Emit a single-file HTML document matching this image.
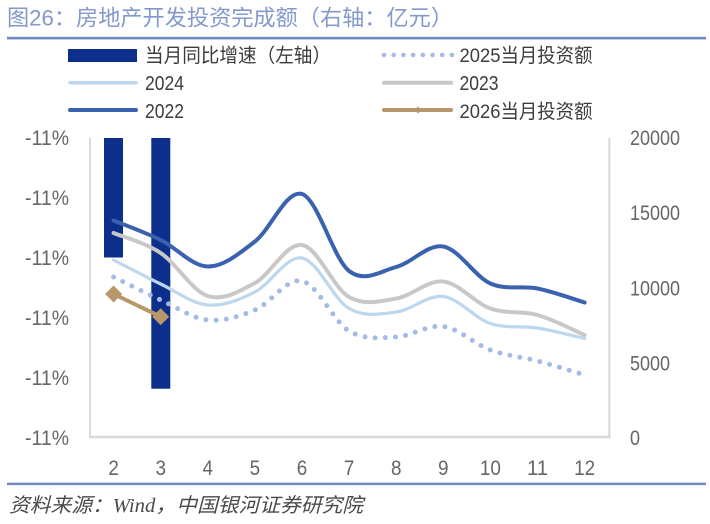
<!DOCTYPE html>
<html><head><meta charset="utf-8">
<style>
html,body{margin:0;padding:0;background:#fff;}
svg{display:block;}
text{font-family:"Liberation Sans","Noto Sans CJK SC",sans-serif;}
</style></head>
<body>
<svg width="710" height="524" viewBox="0 0 710 524" xmlns="http://www.w3.org/2000/svg">
<rect width="710" height="524" fill="#fff"/>

<!-- Title -->
<text x="7" y="25.5" font-size="22" fill="#8399cc" textLength="446" lengthAdjust="spacingAndGlyphs">图26：房地产开发投资完成额（右轴：亿元）</text>
<rect x="7" y="36.8" width="699" height="2.6" fill="#6f87c0"/>

<!-- Legend -->
<rect x="68" y="49" width="69" height="13" fill="#0b2f8a"/>
<text x="145" y="62" font-size="19.5" fill="#3c3c3c" textLength="186" lengthAdjust="spacingAndGlyphs">当月同比增速（左轴）</text>
<line x1="70" y1="82.7" x2="136" y2="82.7" stroke="#bdd7ee" stroke-width="3.5" stroke-linecap="round"/>
<text x="145" y="90" font-size="20" fill="#3c3c3c" textLength="39" lengthAdjust="spacingAndGlyphs">2024</text>
<line x1="70" y1="110" x2="136" y2="110" stroke="#3a62ae" stroke-width="4" stroke-linecap="round"/>
<text x="145" y="118" font-size="20" fill="#3c3c3c" textLength="39" lengthAdjust="spacingAndGlyphs">2022</text>

<line x1="384" y1="55" x2="452" y2="55" stroke="#a4bbe6" stroke-width="4.6" stroke-linecap="round" stroke-dasharray="0 9.7"/>
<text x="459.5" y="62" font-size="19.5" fill="#3c3c3c" textLength="133" lengthAdjust="spacingAndGlyphs">2025当月投资额</text>
<line x1="384" y1="82.7" x2="451" y2="82.7" stroke="#c8c8c8" stroke-width="4" stroke-linecap="round"/>
<text x="459.5" y="90" font-size="20" fill="#3c3c3c" textLength="39" lengthAdjust="spacingAndGlyphs">2023</text>
<line x1="384" y1="110" x2="451" y2="110" stroke="#b8976a" stroke-width="4" stroke-linecap="round"/>
<polygon points="418,106.5 421.5,110 418,113.5 414.5,110" fill="#b8976a"/>
<text x="459.5" y="118" font-size="19.5" fill="#3c3c3c" textLength="133" lengthAdjust="spacingAndGlyphs">2026当月投资额</text>

<!-- Axes -->
<line x1="90" y1="138" x2="90" y2="437" stroke="#d9d9d9" stroke-width="2"/>
<line x1="609.3" y1="138" x2="609.3" y2="437" stroke="#d9d9d9" stroke-width="2"/>
<line x1="89" y1="437" x2="610.3" y2="437" stroke="#d9d9d9" stroke-width="2.4"/>

<!-- Left axis labels -->
<g font-size="21" fill="#666">
<text x="25" y="145" textLength="44" lengthAdjust="spacingAndGlyphs">-11%</text>
<text x="25" y="205" textLength="44" lengthAdjust="spacingAndGlyphs">-11%</text>
<text x="25" y="265" textLength="44" lengthAdjust="spacingAndGlyphs">-11%</text>
<text x="25" y="325" textLength="44" lengthAdjust="spacingAndGlyphs">-11%</text>
<text x="25" y="385" textLength="44" lengthAdjust="spacingAndGlyphs">-11%</text>
<text x="25" y="445" textLength="44" lengthAdjust="spacingAndGlyphs">-11%</text>
</g>

<!-- Right axis labels -->
<g font-size="21" fill="#666">
<text x="630" y="145" textLength="50" lengthAdjust="spacingAndGlyphs">20000</text>
<text x="630" y="220" textLength="50" lengthAdjust="spacingAndGlyphs">15000</text>
<text x="630" y="295.5" textLength="50" lengthAdjust="spacingAndGlyphs">10000</text>
<text x="630" y="370.5" textLength="40" lengthAdjust="spacingAndGlyphs">5000</text>
<text x="630" y="445" textLength="10" lengthAdjust="spacingAndGlyphs">0</text>
</g>

<!-- X labels -->
<g font-size="21" fill="#666" text-anchor="middle">
<text x="113.6" y="475" textLength="10.5" lengthAdjust="spacingAndGlyphs">2</text>
<text x="160.7" y="475" textLength="10.5" lengthAdjust="spacingAndGlyphs">3</text>
<text x="207.8" y="475" textLength="10.5" lengthAdjust="spacingAndGlyphs">4</text>
<text x="254.9" y="475" textLength="10.5" lengthAdjust="spacingAndGlyphs">5</text>
<text x="302" y="475" textLength="10.5" lengthAdjust="spacingAndGlyphs">6</text>
<text x="349.1" y="475" textLength="10.5" lengthAdjust="spacingAndGlyphs">7</text>
<text x="396.2" y="475" textLength="10.5" lengthAdjust="spacingAndGlyphs">8</text>
<text x="443.3" y="475" textLength="10.5" lengthAdjust="spacingAndGlyphs">9</text>
<text x="490.4" y="475" textLength="21" lengthAdjust="spacingAndGlyphs">10</text>
<text x="537.5" y="475" textLength="21" lengthAdjust="spacingAndGlyphs">11</text>
<text x="584.6" y="475" textLength="21" lengthAdjust="spacingAndGlyphs">12</text>
</g>

<!-- Bars -->
<rect x="104" y="138" width="19" height="119.5" fill="#0b2f8a"/>
<rect x="151.3" y="138" width="19" height="250.7" fill="#0b2f8a"/>

<!-- 2025 dotted -->
<path d="M113.6,277 C121.45,280.83 145,292.83 160.7,300 C176.4,307.17 192.1,318.33 207.8,320 C223.5,321.67 239.2,316.5 254.9,310 C270.6,303.5 286.3,277.5 302,281 C317.7,284.5 333.4,321.67 349.1,331 C364.8,340.33 380.5,337.75 396.2,337 C411.9,336.25 427.6,324.33 443.3,326.5 C459,328.67 474.7,344.25 490.4,350 C506.1,355.75 521.8,356.83 537.5,361 C553.2,365.17 576.75,372.67 584.6,375" fill="none" stroke="#a4bbe6" stroke-width="5" stroke-linecap="round" stroke-dasharray="0 10.2"/>

<!-- 2024 -->
<path d="M113.6,260 C121.45,264 145,276.5 160.7,284 C176.4,291.5 192.1,303.67 207.8,305 C223.5,306.33 239.2,299.83 254.9,292 C270.6,284.17 286.3,255.25 302,258 C317.7,260.75 333.4,299.5 349.1,308.5 C364.8,317.5 380.5,314 396.2,312 C411.9,310 427.6,294.58 443.3,296.5 C459,298.42 474.7,318.25 490.4,323.5 C506.1,328.75 521.8,325.5 537.5,328 C553.2,330.5 576.75,336.75 584.6,338.5" fill="none" stroke="#bdd7ee" stroke-width="3.2" stroke-linecap="round"/>

<!-- 2023 -->
<path d="M113.6,233 C121.45,236.33 145,242.5 160.7,253 C176.4,263.5 192.1,291 207.8,296 C223.5,301 239.2,291.5 254.9,283 C270.6,274.5 286.3,242.67 302,245 C317.7,247.33 333.4,288.08 349.1,297 C364.8,305.92 380.5,301.08 396.2,298.5 C411.9,295.92 427.6,279.83 443.3,281.5 C459,283.17 474.7,302.92 490.4,308.5 C506.1,314.08 521.8,310.58 537.5,315 C553.2,319.42 576.75,331.67 584.6,335" fill="none" stroke="#c8c8c8" stroke-width="4" stroke-linecap="round"/>

<!-- 2022 -->
<path d="M113.6,220.5 C121.45,223.75 145,232.33 160.7,240 C176.4,247.67 192.1,266.25 207.8,266.5 C223.5,266.75 239.2,253.58 254.9,241.5 C270.6,229.42 286.3,189.08 302,194 C317.7,198.92 333.4,258.83 349.1,271 C364.8,283.17 380.5,271.08 396.2,267 C411.9,262.92 427.6,243.75 443.3,246.5 C459,249.25 474.7,276.5 490.4,283.5 C506.1,290.5 521.8,285.33 537.5,288.5 C553.2,291.67 576.75,300.17 584.6,302.5" fill="none" stroke="#3a62ae" stroke-width="4" stroke-linecap="round"/>

<!-- 2026 -->
<line x1="113.6" y1="294" x2="160.7" y2="316.7" stroke="#b8976a" stroke-width="4"/>
<polygon points="113.6,285.5 122.1,294 113.6,302.5 105.1,294" fill="#b8976a"/>
<polygon points="160.7,308.2 169.2,316.7 160.7,325.2 152.2,316.7" fill="#b8976a"/>

<!-- Footer -->
<rect x="7" y="482.7" width="699" height="2.4" fill="#6f87c0"/>
<text x="9" y="512" font-size="20" fill="#4a4a4a" font-style="italic" textLength="354" lengthAdjust="spacingAndGlyphs">资料来源：<tspan font-family="Liberation Serif">Wind</tspan>，中国银河证券研究院</text>
</svg>
</body></html>
